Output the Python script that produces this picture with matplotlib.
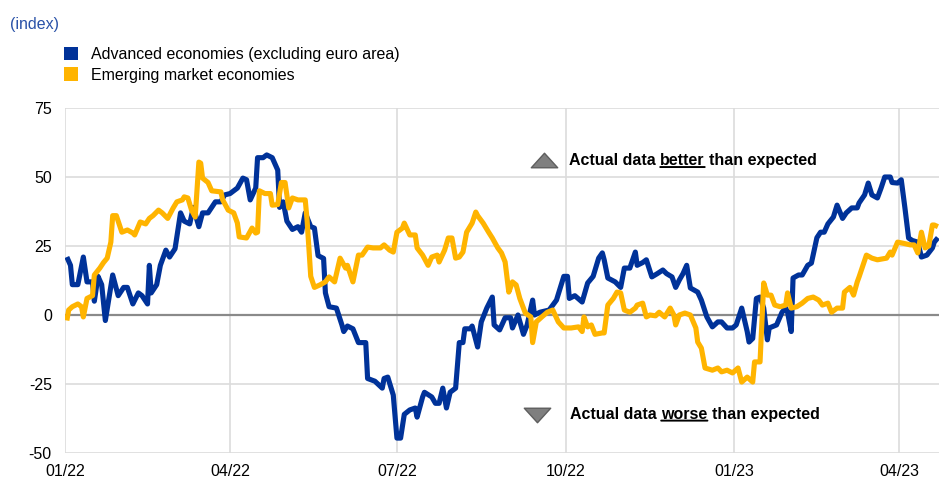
import pandas as pd
import matplotlib
matplotlib.use("Agg")
import matplotlib.pyplot as plt
import matplotlib.dates as mdates
from matplotlib.patches import Patch
from matplotlib.path import Path

plt.rcParams['font.family'] = ['Liberation Sans', 'DejaVu Sans']
plt.rcParams['axes.unicode_minus'] = False

# ---------------- data ----------------
adv_dates = ["2022-01-02","2022-01-04","2022-01-05","2022-01-08","2022-01-11","2022-01-13","2022-01-16","2022-01-17","2022-01-19","2022-01-21",
             "2022-01-23","2022-01-27","2022-01-28","2022-01-30","2022-02-02","2022-02-04","2022-02-07","2022-02-10","2022-02-12","2022-02-15",
             "2022-02-16","2022-02-17","2022-02-20","2022-02-22","2022-02-25","2022-02-27","2022-03-02","2022-03-05","2022-03-07","2022-03-10",
             "2022-03-12","2022-03-15","2022-03-17","2022-03-20","2022-03-24","2022-03-27","2022-03-29","2022-04-01","2022-04-05","2022-04-08",
             "2022-04-10","2022-04-12","2022-04-15","2022-04-16","2022-04-19","2022-04-21","2022-04-24","2022-04-27","2022-04-28","2022-04-30",
             "2022-05-02","2022-05-05","2022-05-08","2022-05-10","2022-05-12","2022-05-15","2022-05-17","2022-05-19","2022-05-22","2022-05-23",
             "2022-05-25","2022-05-29","2022-06-01","2022-06-02","2022-06-04","2022-06-07","2022-06-10","2022-06-14","2022-06-15","2022-06-19",
             "2022-06-23","2022-06-24","2022-06-26","2022-06-29","2022-07-01","2022-07-03","2022-07-05","2022-07-08","2022-07-11","2022-07-12",
             "2022-07-15","2022-07-16","2022-07-20","2022-07-22","2022-07-24","2022-07-26","2022-07-28","2022-07-30","2022-08-02","2022-08-03",
             "2022-08-04","2022-08-06","2022-08-07","2022-08-10","2022-08-11","2022-08-14","2022-08-16","2022-08-19","2022-08-22","2022-08-23",
             "2022-08-26","2022-08-29","2022-09-01","2022-09-02","2022-09-05","2022-09-08","2022-09-10","2022-09-13","2022-09-14","2022-09-17",
             "2022-09-22","2022-09-26","2022-09-30","2022-10-02","2022-10-03","2022-10-06","2022-10-10","2022-10-13","2022-10-16","2022-10-19",
             "2022-10-21","2022-10-22","2022-10-24","2022-10-28","2022-10-31","2022-11-02","2022-11-05","2022-11-08","2022-11-09","2022-11-12",
             "2022-11-14","2022-11-17","2022-11-20","2022-11-23","2022-11-25","2022-11-28","2022-11-30","2022-12-02","2022-12-04","2022-12-06",
             "2022-12-08","2022-12-12","2022-12-14","2022-12-17","2022-12-20","2022-12-23","2022-12-25","2022-12-28","2022-12-31","2023-01-02",
             "2023-01-05","2023-01-08","2023-01-09","2023-01-11","2023-01-13","2023-01-15","2023-01-17","2023-01-19","2023-01-20","2023-01-24",
             "2023-01-27","2023-01-29","2023-01-30","2023-02-01","2023-02-02","2023-02-05","2023-02-07","2023-02-10","2023-02-12","2023-02-15",
             "2023-02-17","2023-02-19","2023-02-21","2023-02-24","2023-02-26","2023-03-01","2023-03-03","2023-03-06","2023-03-09","2023-03-10",
             "2023-03-13","2023-03-15","2023-03-17","2023-03-20","2023-03-22","2023-03-24","2023-03-27","2023-03-28","2023-03-31","2023-04-02",
             "2023-04-04","2023-04-06","2023-04-08","2023-04-11","2023-04-13","2023-04-16","2023-04-19","2023-04-20","2023-04-22"]
adv_values = [21, 18, 11, 11, 21, 12, 12, 5, 14, 11,
              -2, 14.5, 12, 7, 10, 10, 4, 8, 7, 4,
              18, 8, 11, 18, 23.5, 21, 24, 37, 34, 33,
              39, 32, 37, 37, 41, 41, 43.5, 44, 46, 49.6,
              49, 41.7, 46, 57, 57, 58, 57, 52.5, 39, 41,
              34, 31, 32, 30, 37, 32, 31.5, 21.5, 20.5, 8,
              3, 2.5, -3.6, -6, -4, -5, -10, -10, -23, -24,
              -26.5, -23, -22.5, -29, -44.6, -44.6, -36, -34.4, -33.7, -37,
              -29.7, -28, -29.7, -32, -32, -26.5, -33.7, -28, -26.5, -18,
              -10, -10, -5, -5, -4, -11.6, -2.5, 2.5, 6.5, -3.6,
              -5.4, -1, -1, -4.7, 0, -7, -3.6, 5.4, 0, 1,
              1.8, 5.4, 14, 14, 6, 7, 4.7, 11.6, 14, 20.6,
              22.5, 20, 13.4, 12, 10, 17, 17, 22.8, 18, 19,
              20, 13.8, 15, 16.3, 15, 13.8, 10, 12.7, 15, 18,
              9.8, 8.3, 5.4, -0.7, -4.3, -2.5, -2.5, -4.7, -4.7, -3.6,
              2.5, -6, -9.8, -8.5, 6, 6.5, 2.5, -9, -4.7, -3.6,
              1, 2.5, 1, -6, 13.4, 14.5, 14.5, 18, 18.8, 28,
              30, 30, 33, 35.5, 39.8, 35, 37, 38.8, 38.8, 40.6,
              43.5, 47.8, 43.5, 42.4, 46, 50, 50, 48, 47.8, 49,
              38.8, 27.9, 27, 26.4, 21, 21.7, 24.3, 26.4, 28]

eme_dates = ["2022-01-02","2022-01-03","2022-01-05","2022-01-08","2022-01-10","2022-01-11","2022-01-13","2022-01-16","2022-01-17","2022-01-20",
             "2022-01-22","2022-01-24","2022-01-26","2022-01-27","2022-01-29","2022-02-01","2022-02-04","2022-02-07","2022-02-08","2022-02-11",
             "2022-02-14","2022-02-16","2022-02-18","2022-02-21","2022-02-23","2022-02-26","2022-03-01","2022-03-03","2022-03-06","2022-03-07",
             "2022-03-09","2022-03-11","2022-03-13","2022-03-15","2022-03-16","2022-03-17","2022-03-20","2022-03-22","2022-03-27","2022-03-28",
             "2022-03-31","2022-04-03","2022-04-05","2022-04-06","2022-04-10","2022-04-13","2022-04-15","2022-04-16","2022-04-17","2022-04-20",
             "2022-04-23","2022-04-24","2022-04-27","2022-04-29","2022-05-01","2022-05-03","2022-05-05","2022-05-08","2022-05-12","2022-05-13",
             "2022-05-15","2022-05-17","2022-05-20","2022-05-23","2022-05-25","2022-05-28","2022-05-31","2022-06-03","2022-06-04","2022-06-07",
             "2022-06-10","2022-06-12","2022-06-15","2022-06-18","2022-06-22","2022-06-24","2022-06-27","2022-06-29","2022-07-01","2022-07-04",
             "2022-07-05","2022-07-08","2022-07-11","2022-07-12","2022-07-15","2022-07-18","2022-07-20","2022-07-23","2022-07-24","2022-07-27",
             "2022-07-29","2022-07-31","2022-08-02","2022-08-04","2022-08-06","2022-08-08","2022-08-11","2022-08-13","2022-08-14","2022-08-17",
             "2022-08-20","2022-08-22","2022-08-25","2022-08-27","2022-08-29","2022-08-31","2022-09-02","2022-09-04","2022-09-06","2022-09-09",
             "2022-09-12","2022-09-13","2022-09-15","2022-09-18","2022-09-21","2022-09-24","2022-09-27","2022-09-30","2022-10-04","2022-10-08",
             "2022-10-10","2022-10-11","2022-10-13","2022-10-15","2022-10-17","2022-10-21","2022-10-22","2022-10-24","2022-10-27","2022-10-29",
             "2022-10-31","2022-11-02","2022-11-05","2022-11-08","2022-11-09","2022-11-12","2022-11-14","2022-11-16","2022-11-19","2022-11-21",
             "2022-11-24","2022-11-27","2022-11-29","2022-11-30","2022-12-02","2022-12-05","2022-12-08","2022-12-11","2022-12-12","2022-12-14",
             "2022-12-16","2022-12-20","2022-12-23","2022-12-25","2022-12-28","2022-12-31","2023-01-03","2023-01-05","2023-01-08","2023-01-11",
             "2023-01-12","2023-01-15","2023-01-17","2023-01-19","2023-01-21","2023-01-23","2023-01-26","2023-01-29","2023-01-30","2023-02-01",
             "2023-02-04","2023-02-07","2023-02-10","2023-02-13","2023-02-16","2023-02-18","2023-02-21","2023-02-23","2023-02-26","2023-03-01",
             "2023-03-02","2023-03-05","2023-03-07","2023-03-09","2023-03-10","2023-03-14","2023-03-17","2023-03-20","2023-03-25","2023-03-27",
             "2023-03-28","2023-03-31","2023-04-03","2023-04-07","2023-04-09","2023-04-11","2023-04-13","2023-04-15","2023-04-17","2023-04-19",
             "2023-04-20","2023-04-22"]
eme_values = [-2, 1.8, 3, 4, 3, -0.7, 6, 7, 14.5, 17,
              19, 20.6, 26.4, 36, 36, 30, 30.8, 29.7, 29, 33.7,
              33, 35, 36, 38, 37, 35, 38.8, 41, 41.7, 42.8,
              42.4, 38, 35.5, 55.4, 55, 49.6, 48, 45, 44.6, 41.7,
              38, 37, 33.3, 28.3, 27.9, 31.5, 29.7, 30, 45, 44,
              44, 39.8, 40, 48, 48, 38.8, 42.4, 41.7, 41.7, 34.4,
              14, 10, 10.9, 12, 13.8, 12, 20.6, 17, 18, 12,
              21.7, 21.7, 24.6, 24.3, 24.3, 25.4, 23.5, 22.8, 30, 31.5,
              33.3, 29, 29, 24.3, 21.7, 18, 21, 21.7, 19.2, 23.5,
              27.9, 27.9, 20.6, 21, 22.8, 30, 33.3, 37.3, 36, 33.3,
              30, 27.9, 24.3, 22.5, 19.2, 8.3, 12, 10.9, 6, 0.7,
              -0.7, -10, -2.5, -0.7, 1, 1.8, -2.5, -4.7, -4.7, -4.3,
              -6, -0.7, -4.3, -3.6, -7, -6.5, -6.5, 3.6, 6, 8.3,
              8, 1.8, 1, 2.5, 3.6, 4.3, -0.7, 0, -0.3, 1,
              -0.7, 2.5, 0, -3.6, 0, 0.7, 0, -4.7, -9.8, -12,
              -19.2, -20, -19.2, -20.6, -20, -21, -19.2, -24.3, -22.5, -24.3,
              -17, -17, 11.6, 7.2, 7.2, 3.6, 3, 3.6, 8, 2.5,
              3, 4.3, 6, 6.5, 5.4, 3.6, 4.3, 1, 2.5, 2.5,
              8.3, 10, 7.2, 12, 13.8, 21.7, 20.6, 20, 20.6, 22.8,
              21.7, 26.4, 26, 25.4, 25.4, 22.5, 30, 24.3, 25, 32.6,
              32.6, 32]

series_labels = ["Advanced economies (excluding euro area)", "Emerging market economies"]
series_colours = ["#003299", "#FFB400"]
y_ticks = [-50, -25, 0, 25, 50, 75]
x_start, x_end = "2022-01-01", "2023-04-22 14:00"

assert len(adv_dates) == len(adv_values), (len(adv_dates), len(adv_values))
assert len(eme_dates) == len(eme_values), (len(eme_dates), len(eme_values))

FS = 11.5  # font size used everywhere

# ---------------- figure ----------------
fig = plt.figure(figsize=(9.39, 4.80), dpi=100)
ax = fig.add_axes([65 / 939, 1 - 453 / 480, 874 / 939, 345 / 480])

ax.plot(pd.to_datetime(adv_dates), adv_values, color=series_colours[0], lw=3.7,
        solid_joinstyle='round', solid_capstyle='butt', zorder=3)
ax.plot(pd.to_datetime(eme_dates), eme_values, color=series_colours[1], lw=3.7,
        solid_joinstyle='round', solid_capstyle='butt', zorder=4)

ax.axhline(0, color='#8a8a8a', lw=1.6, zorder=2)

ax.set_ylim(-50, 75)
ax.set_yticks(y_ticks)
ax.set_xlim(pd.Timestamp(x_start), pd.Timestamp(x_end))
ax.xaxis.set_major_locator(mdates.MonthLocator(bymonth=[1, 4, 7, 10]))
ax.xaxis.set_major_formatter(mdates.DateFormatter('%m/%y'))

ax.grid(True, color='#dcdcdc', lw=1.2, zorder=0)
ax.set_axisbelow(True)
for s in ax.spines.values():
    s.set_visible(False)
ax.tick_params(axis='both', length=0, labelsize=FS, colors='black')
ax.tick_params(axis='y', pad=9.5)
ax.tick_params(axis='x', pad=8)

# ---------------- annotations ----------------
tri_up = Path([(-1, -0.55), (1, -0.55), (0, 0.55), (-1, -0.55)],
              [Path.MOVETO, Path.LINETO, Path.LINETO, Path.CLOSEPOLY])
tri_down = Path([(-1, 0.55), (1, 0.55), (0, -0.55), (-1, 0.55)],
                [Path.MOVETO, Path.LINETO, Path.LINETO, Path.CLOSEPOLY])
ax.plot([0.5475], [0.848], marker=tri_up, ms=19, mfc='#7f7f7f', mec='#5e5e5e',
        mew=1, transform=ax.transAxes, clip_on=False, zorder=5)
ax.plot([0.540], [0.109], marker=tri_down, ms=19, mfc='#7f7f7f', mec='#5e5e5e',
        mew=1, transform=ax.transAxes, clip_on=False, zorder=5)


def underlined(x, y, before, word, after):
    kw = dict(fontsize=FS, fontweight='bold', color='black')
    sp = 0.278 * FS  # width of a space, in points
    t1 = ax.text(x, y, before, transform=ax.transAxes, ha='left', va='center', **kw)
    t2 = ax.annotate(word, xy=(1, 0), xycoords=t1, xytext=(sp, 0),
                     textcoords='offset points', ha='left', va='bottom', **kw)
    ax.annotate(after, xy=(1, 0), xycoords=t2, xytext=(sp, 0),
                textcoords='offset points', ha='left', va='bottom', **kw)
    ax.annotate('', xy=(0, 0.06), xycoords=t2, xytext=(1, 0.06), textcoords=t2,
                arrowprops=dict(arrowstyle='-', lw=1.4, color='black',
                                shrinkA=0, shrinkB=0))


underlined(0.5767, 0.848, "Actual data", "better", "than expected")
underlined(0.5778, 0.113, "Actual data", "worse", "than expected")

# ---------------- legend and unit ----------------
fig.text(10 / 939, 1 - 24 / 480, "(index)", color='#2a52a8', fontsize=FS, va='center')
handles = [Patch(facecolor=c, edgecolor='none') for c in series_colours]
fig.legend(handles, series_labels, loc='upper left',
           bbox_to_anchor=(64 / 939, 1 - 47 / 480), frameon=False, fontsize=FS,
           handlelength=0.88, handleheight=0.88, handletextpad=0.8,
           labelspacing=0.34, borderpad=0, borderaxespad=0)

fig.savefig("out.png", dpi=100)
